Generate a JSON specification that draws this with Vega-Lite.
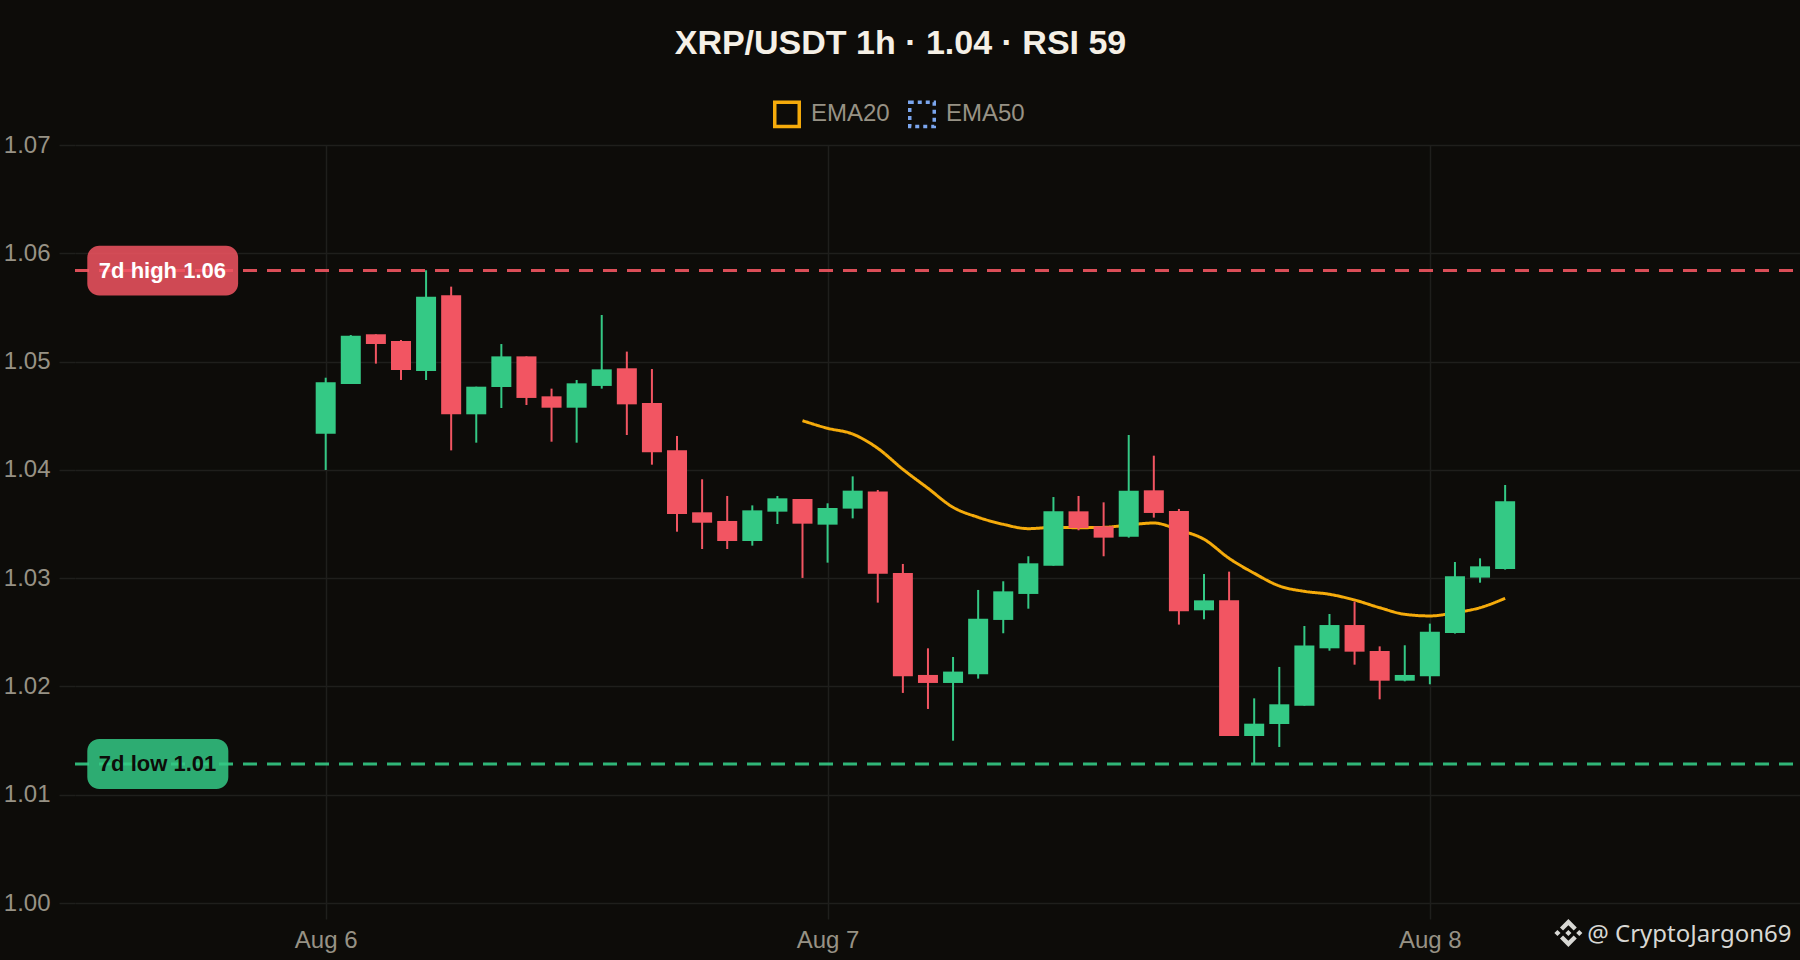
{
  "$schema": "https://vega.github.io/schema/vega-lite/v6.json",
  "autosize": "none",
  "width": 1725,
  "height": 758,
  "padding": {"left": 75, "top": 145, "right": 0, "bottom": 57},
  "background": "#0d0c09",
  "title": {
    "text": "XRP/USDT 1h · 1.04 · RSI 59",
    "anchor": "middle",
    "dx": -37,
    "offset": 39,
    "font": "Liberation Sans",
    "fontSize": 34,
    "fontWeight": "bold",
    "color": "#f5f0e6"
  },
  "config": {
    "view": {"stroke": null},
    "axis": {
      "domain": false,
      "grid": true,
      "gridColor": "#1f1f1c",
      "gridWidth": 1.5,
      "tickColor": "#1f1f1c",
      "tickWidth": 1.5,
      "tickSize": 16,
      "labelColor": "#979285",
      "labelFont": "Liberation Sans",
      "labelFontSize": 24,
      "title": null
    }
  },
  "datasets": {
    "levels": [
      {"label": "7d high 1.06", "kind": "high", "level": 1.0584},
      {"label": "7d low 1.01", "kind": "low", "level": 1.01284}
    ],
    "ema": [
      {"i": 19, "series": "EMA20", "ema": 1.04454},
      {"i": 20, "series": "EMA20", "ema": 1.04384},
      {"i": 21, "series": "EMA20", "ema": 1.04331},
      {"i": 22, "series": "EMA20", "ema": 1.04199},
      {"i": 23, "series": "EMA20", "ema": 1.04005},
      {"i": 24, "series": "EMA20", "ema": 1.0383},
      {"i": 25, "series": "EMA20", "ema": 1.03654},
      {"i": 26, "series": "EMA20", "ema": 1.03562},
      {"i": 27, "series": "EMA20", "ema": 1.03497},
      {"i": 28, "series": "EMA20", "ema": 1.03457},
      {"i": 29, "series": "EMA20", "ema": 1.03469},
      {"i": 30, "series": "EMA20", "ema": 1.03466},
      {"i": 31, "series": "EMA20", "ema": 1.03469},
      {"i": 32, "series": "EMA20", "ema": 1.03491},
      {"i": 33, "series": "EMA20", "ema": 1.03509},
      {"i": 34, "series": "EMA20", "ema": 1.03445},
      {"i": 35, "series": "EMA20", "ema": 1.03359},
      {"i": 36, "series": "EMA20", "ema": 1.03183},
      {"i": 37, "series": "EMA20", "ema": 1.03045},
      {"i": 38, "series": "EMA20", "ema": 1.02928},
      {"i": 39, "series": "EMA20", "ema": 1.02878},
      {"i": 40, "series": "EMA20", "ema": 1.02851},
      {"i": 41, "series": "EMA20", "ema": 1.02798},
      {"i": 42, "series": "EMA20", "ema": 1.02727},
      {"i": 43, "series": "EMA20", "ema": 1.02666},
      {"i": 44, "series": "EMA20", "ema": 1.02651},
      {"i": 45, "series": "EMA20", "ema": 1.02681},
      {"i": 46, "series": "EMA20", "ema": 1.02727},
      {"i": 47, "series": "EMA20", "ema": 1.02814}
    ],
    "candles": [
      {"i": 0, "open": 1.04334, "high": 1.04851, "low": 1.03999, "close": 1.04808},
      {"i": 1, "open": 1.04793, "high": 1.05245, "low": 1.04793, "close": 1.05239},
      {"i": 2, "open": 1.05252, "high": 1.05252, "low": 1.04981, "close": 1.05162},
      {"i": 3, "open": 1.0519, "high": 1.05199, "low": 1.0483, "close": 1.04922},
      {"i": 4, "open": 1.04913, "high": 1.05843, "low": 1.0483, "close": 1.05599},
      {"i": 5, "open": 1.05612, "high": 1.05692, "low": 1.0418, "close": 1.04513},
      {"i": 6, "open": 1.04513, "high": 1.04768, "low": 1.04251, "close": 1.04768},
      {"i": 7, "open": 1.04765, "high": 1.05162, "low": 1.04571, "close": 1.05048},
      {"i": 8, "open": 1.05048, "high": 1.05048, "low": 1.04599, "close": 1.04664},
      {"i": 9, "open": 1.04679, "high": 1.0475, "low": 1.0426, "close": 1.04574},
      {"i": 10, "open": 1.04574, "high": 1.0483, "low": 1.04251, "close": 1.04799},
      {"i": 11, "open": 1.04775, "high": 1.0543, "low": 1.0475, "close": 1.04928},
      {"i": 12, "open": 1.04938, "high": 1.05092, "low": 1.04322, "close": 1.04605},
      {"i": 13, "open": 1.04617, "high": 1.04931, "low": 1.04048, "close": 1.04162},
      {"i": 14, "open": 1.0418, "high": 1.04313, "low": 1.03429, "close": 1.03593},
      {"i": 15, "open": 1.03608, "high": 1.03913, "low": 1.03269, "close": 1.03512},
      {"i": 16, "open": 1.03528, "high": 1.03759, "low": 1.03269, "close": 1.03343},
      {"i": 17, "open": 1.03343, "high": 1.03672, "low": 1.033, "close": 1.03626},
      {"i": 18, "open": 1.03614, "high": 1.03759, "low": 1.035, "close": 1.03737},
      {"i": 19, "open": 1.03731, "high": 1.03731, "low": 1.03002, "close": 1.03503},
      {"i": 20, "open": 1.03494, "high": 1.03691, "low": 1.03143, "close": 1.03648},
      {"i": 21, "open": 1.03642, "high": 1.0394, "low": 1.03552, "close": 1.03808},
      {"i": 22, "open": 1.03799, "high": 1.03814, "low": 1.02774, "close": 1.03041},
      {"i": 23, "open": 1.03048, "high": 1.03131, "low": 1.0194, "close": 1.02093},
      {"i": 24, "open": 1.02106, "high": 1.02352, "low": 1.01792, "close": 1.02032},
      {"i": 25, "open": 1.02032, "high": 1.02272, "low": 1.01499, "close": 1.02137},
      {"i": 26, "open": 1.02112, "high": 1.02891, "low": 1.02072, "close": 1.02626},
      {"i": 27, "open": 1.02614, "high": 1.02971, "low": 1.02491, "close": 1.02878},
      {"i": 28, "open": 1.02854, "high": 1.03202, "low": 1.02718, "close": 1.03137},
      {"i": 29, "open": 1.03115, "high": 1.03749, "low": 1.03115, "close": 1.03617},
      {"i": 30, "open": 1.03617, "high": 1.03759, "low": 1.03442, "close": 1.03463},
      {"i": 31, "open": 1.03479, "high": 1.037, "low": 1.03202, "close": 1.03374},
      {"i": 32, "open": 1.03383, "high": 1.04322, "low": 1.03374, "close": 1.03808},
      {"i": 33, "open": 1.03811, "high": 1.04131, "low": 1.03559, "close": 1.03602},
      {"i": 34, "open": 1.0362, "high": 1.03639, "low": 1.02571, "close": 1.02694},
      {"i": 35, "open": 1.02703, "high": 1.03038, "low": 1.0262, "close": 1.02795},
      {"i": 36, "open": 1.02795, "high": 1.0306, "low": 1.01542, "close": 1.01542},
      {"i": 37, "open": 1.01542, "high": 1.0189, "low": 1.01281, "close": 1.01656},
      {"i": 38, "open": 1.01653, "high": 1.0218, "low": 1.01441, "close": 1.01835},
      {"i": 39, "open": 1.01822, "high": 1.02558, "low": 1.01822, "close": 1.02377},
      {"i": 40, "open": 1.02352, "high": 1.02669, "low": 1.0233, "close": 1.02567},
      {"i": 41, "open": 1.02567, "high": 1.02783, "low": 1.02201, "close": 1.02321},
      {"i": 42, "open": 1.02327, "high": 1.0237, "low": 1.01881, "close": 1.02053},
      {"i": 43, "open": 1.02053, "high": 1.0238, "low": 1.02047, "close": 1.02106},
      {"i": 44, "open": 1.02093, "high": 1.0258, "low": 1.0202, "close": 1.02506},
      {"i": 45, "open": 1.02494, "high": 1.03149, "low": 1.02488, "close": 1.03017},
      {"i": 46, "open": 1.03005, "high": 1.03183, "low": 1.02958, "close": 1.03109},
      {"i": 47, "open": 1.03085, "high": 1.0386, "low": 1.03079, "close": 1.03709}
    ]
  },
  "layer": [
    {
      "data": {"name": "levels"},
      "mark": {"type": "rule", "strokeWidth": 3, "strokeDash": [14, 10], "opacity": 0.9},
      "encoding": {
        "x": {
          "datum": -9.99,
          "type": "quantitative",
          "title": null,
          "scale": {"domain": [-9.99, 58.75], "nice": false, "zero": false, "padding": 0},
          "axis": {
            "values": [0, 20, 44],
            "labelExpr": "datum.value == 0 ? 'Aug 6' : datum.value == 20 ? 'Aug 7' : 'Aug 8'",
            "labelPadding": 9
          }
        },
        "x2": {"datum": 58.75},
        "y": {
          "field": "level",
          "type": "quantitative",
          "title": null,
          "scale": {"domain": [1, 1.07], "nice": false, "zero": false},
          "axis": {
            "values": [1, 1.01, 1.02, 1.03, 1.04, 1.05, 1.06, 1.07],
            "format": ".2f",
            "labelPadding": 9
          }
        },
        "color": {
          "condition": {"test": "datum.kind === 'high'", "value": "#f25562"},
          "value": "#34c985"
        }
      }
    },
    {
      "data": {"name": "ema"},
      "mark": {"type": "line", "strokeWidth": 3, "interpolate": "monotone"},
      "encoding": {
        "x": {"field": "i", "type": "quantitative", "title": null},
        "y": {"field": "ema", "type": "quantitative", "title": null},
        "color": {
          "field": "series",
          "type": "nominal",
          "scale": {"domain": ["EMA20", "EMA50"], "range": ["#f5ab0b", "#7ba6ee"]},
          "legend": {
            "title": null,
            "orient": "none",
            "legendX": 698,
            "legendY": -45,
            "direction": "horizontal",
            "columns": 2,
            "symbolType": "square",
            "symbolSize": 600,
            "symbolStrokeWidth": 3.5,
            "labelFont": "Liberation Sans",
            "labelFontSize": 24,
            "labelColor": "#979285",
            "labelOffset": 10,
            "columnPadding": 12
          }
        },
        "strokeDash": {
          "field": "series",
          "type": "nominal",
          "scale": {"domain": ["EMA20", "EMA50"], "range": [[1, 0], [4, 4]]},
          "legend": {
            "title": null,
            "orient": "none",
            "legendX": 698,
            "legendY": -45,
            "direction": "horizontal",
            "columns": 2,
            "symbolType": "square",
            "symbolSize": 600,
            "symbolStrokeWidth": 3.5,
            "labelFont": "Liberation Sans",
            "labelFontSize": 24,
            "labelColor": "#979285",
            "labelOffset": 10,
            "columnPadding": 12
          }
        }
      }
    },
    {
      "data": {"name": "candles"},
      "mark": {"type": "rule", "strokeWidth": 2},
      "encoding": {
        "x": {"field": "i", "type": "quantitative", "title": null},
        "y": {"field": "low", "type": "quantitative", "title": null},
        "y2": {"field": "high"},
        "color": {
          "condition": {"test": "datum.close >= datum.open", "value": "#34c985"},
          "value": "#f25562"
        }
      }
    },
    {
      "data": {"name": "candles"},
      "mark": {"type": "bar", "size": 20},
      "encoding": {
        "x": {"field": "i", "type": "quantitative", "title": null},
        "y": {"field": "open", "type": "quantitative", "title": null},
        "y2": {"field": "close"},
        "color": {
          "condition": {"test": "datum.close >= datum.open", "value": "#34c985"},
          "value": "#f25562"
        }
      }
    },
    {
      "data": {"values": [{}]},
      "mark": {"type": "rect", "cornerRadius": 12, "color": "#f25562", "opacity": 0.85},
      "encoding": {
        "x": {"datum": -9.5, "type": "quantitative", "title": null},
        "x2": {"datum": -3.49},
        "y": {"datum": 1.0607, "type": "quantitative", "title": null},
        "y2": {"datum": 1.0561}
      }
    },
    {
      "data": {"values": [{}]},
      "mark": {"type": "rect", "cornerRadius": 12, "color": "#34c985", "opacity": 0.85},
      "encoding": {
        "x": {"datum": -9.5, "type": "quantitative", "title": null},
        "x2": {"datum": -3.88},
        "y": {"datum": 1.01515, "type": "quantitative", "title": null},
        "y2": {"datum": 1.01053}
      }
    },
    {
      "data": {"name": "levels"},
      "mark": {
        "type": "text",
        "align": "left",
        "baseline": "middle",
        "font": "Liberation Sans",
        "fontSize": 22,
        "fontWeight": "bold"
      },
      "encoding": {
        "x": {"datum": -9.04, "type": "quantitative", "title": null},
        "y": {"field": "level", "type": "quantitative", "title": null},
        "text": {"field": "label"},
        "color": {
          "condition": {"test": "datum.kind === 'high'", "value": "#ffffff"},
          "value": "#0d0c09"
        }
      }
    },
    {
      "data": {"values": [{}]},
      "mark": {
        "type": "point",
        "filled": true,
        "color": "#d8d8d4",
        "opacity": 1,
        "size": 784,
        "shape": "M0,-0.22L0.22,0L0,0.22L-0.22,0ZM-1,0L-0.78,-0.22L-0.56,0L-0.78,0.22ZM1,0L0.78,-0.22L0.56,0L0.78,0.22ZM0,-1L0.6,-0.4L0.38,-0.18L0,-0.56L-0.38,-0.18L-0.6,-0.4ZM0,1L0.6,0.4L0.38,0.18L0,0.56L-0.38,0.18L-0.6,0.4Z"
      },
      "encoding": {
        "x": {"datum": 49.52, "type": "quantitative", "title": null},
        "y": {"datum": 0.99723, "type": "quantitative", "title": null}
      }
    },
    {
      "data": {"values": [{}]},
      "mark": {
        "type": "text",
        "align": "left",
        "baseline": "middle",
        "font": "Noto Sans",
        "fontSize": 24,
        "color": "#d8d8d4",
        "text": "@ CryptoJargon69"
      },
      "encoding": {
        "x": {"datum": 50.27, "type": "quantitative", "title": null},
        "y": {"datum": 0.99704, "type": "quantitative", "title": null}
      }
    }
  ]
}
